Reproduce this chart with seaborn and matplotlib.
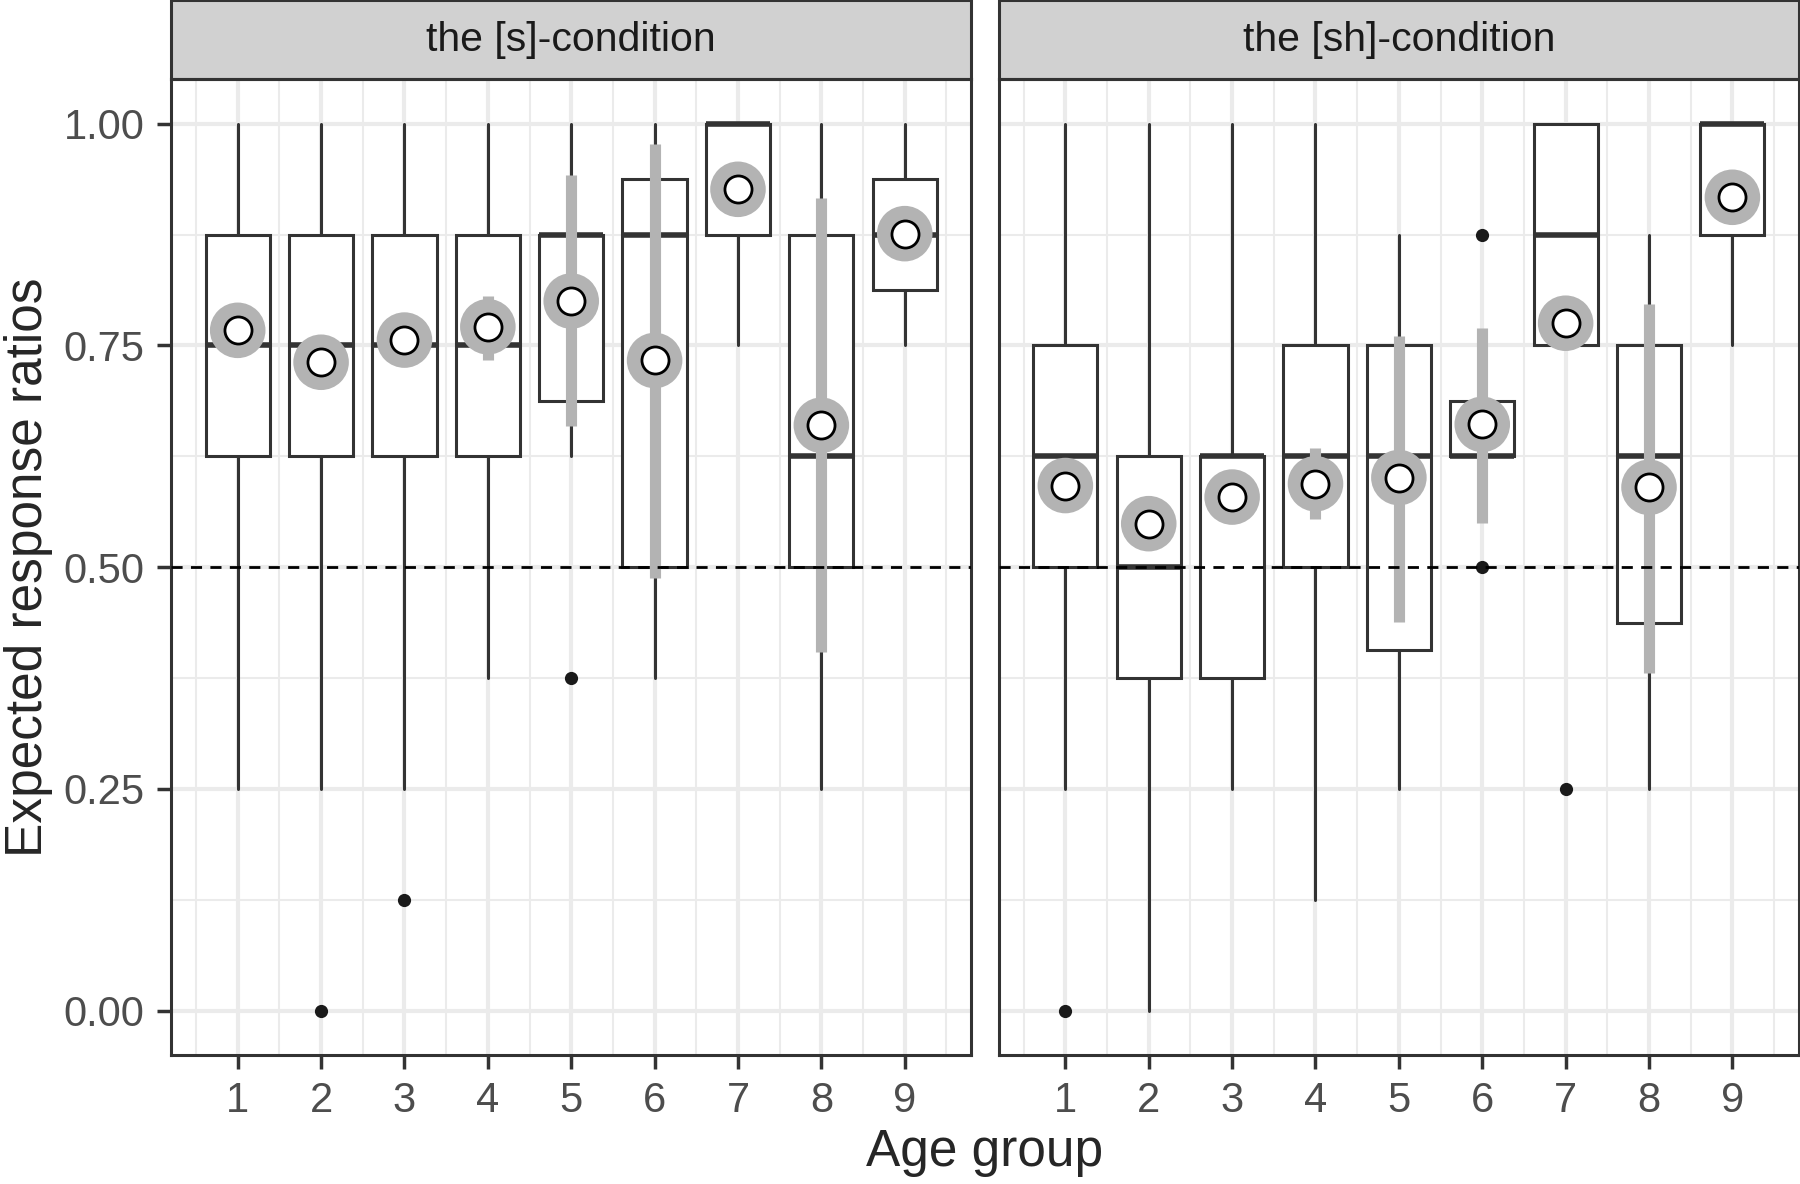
import numpy as np
import pandas as pd
import seaborn as sns
import matplotlib.pyplot as plt
from matplotlib.patches import Rectangle

# values
conditions = ["the [s]-condition", "the [sh]-condition"]
ages = [1, 2, 3, 4, 5, 6, 7, 8, 9]

# [s]-condition
s_q1 = [0.625, 0.625, 0.625, 0.625, 0.6875, 0.5, 0.875, 0.5, 0.8125]
s_med = [0.75, 0.75, 0.75, 0.75, 0.875, 0.875, 1.0, 0.625, 0.875]
s_q3 = [0.875, 0.875, 0.875, 0.875, 0.875, 0.9375, 1.0, 0.875, 0.9375]
s_wlo = [0.25, 0.25, 0.25, 0.375, 0.625, 0.375, 0.75, 0.25, 0.75]
s_whi = [1.0, 1.0, 1.0, 1.0, 1.0, 1.0, 1.0, 1.0, 1.0]
s_out = [[], [0.0], [0.125], [], [0.375], [], [], [], []]
s_mean = [0.767, 0.731, 0.756, 0.771, 0.800, 0.733, 0.926, 0.660, 0.876]
s_ci_lo = [0.752, 0.716, 0.741, 0.734, 0.659, 0.488, 0.912, 0.404, 0.862]
s_ci_hi = [0.782, 0.746, 0.771, 0.806, 0.942, 0.977, 0.940, 0.916, 0.890]

# [sh]-condition
h_q1 = [0.5, 0.375, 0.375, 0.5, 0.40625, 0.625, 0.75, 0.4375, 0.875]
h_med = [0.625, 0.5, 0.625, 0.625, 0.625, 0.625, 0.875, 0.625, 1.0]
h_q3 = [0.75, 0.625, 0.625, 0.75, 0.75, 0.6875, 1.0, 0.75, 1.0]
h_wlo = [0.25, 0.0, 0.25, 0.125, 0.25, 0.625, 0.75, 0.25, 0.75]
h_whi = [1.0, 1.0, 1.0, 1.0, 0.875, 0.6875, 1.0, 0.875, 1.0]
h_out = [[0.0], [], [], [], [], [0.875, 0.5], [0.25], [], []]
h_mean = [0.592, 0.549, 0.579, 0.594, 0.601, 0.661, 0.775, 0.590, 0.917]
h_ci_lo = [0.577, 0.534, 0.564, 0.554, 0.438, 0.550, 0.760, 0.381, 0.903]
h_ci_hi = [0.607, 0.564, 0.594, 0.634, 0.761, 0.770, 0.790, 0.797, 0.931]

def make_frame(cond, q1, med, q3, wlo, whi, out, mean, lo, hi):
    return pd.DataFrame({"condition": cond, "age": ages, "q1": q1, "med": med,
                         "q3": q3, "wlo": wlo, "whi": whi, "out": out,
                         "mean": mean, "ci_lo": lo, "ci_hi": hi})

df = pd.concat([
    make_frame(conditions[0], s_q1, s_med, s_q3, s_wlo, s_whi, s_out, s_mean, s_ci_lo, s_ci_hi),
    make_frame(conditions[1], h_q1, h_med, h_q3, h_wlo, h_whi, h_out, h_mean, h_ci_lo, h_ci_hi),
], ignore_index=True)

sns.set_theme(style="whitegrid")
plt.rcParams['font.family'] = ['Liberation Sans', 'DejaVu Sans']

dark = '#333333'
grey = '#b3b3b3'


def draw_panel(data, color=None, label=None):
    ax = plt.gca()
    stats = [dict(med=r.med, q1=r.q1, q3=r.q3, whislo=r.wlo, whishi=r.whi,
                  fliers=np.array(r.out)) for r in data.itertuples()]
    ax.bxp(stats, positions=data["age"].tolist(), widths=0.77, patch_artist=True,
           showcaps=False, manage_ticks=False, zorder=2,
           boxprops=dict(facecolor='white', edgecolor=dark, linewidth=2.2),
           medianprops=dict(color=dark, linewidth=4, solid_capstyle='butt'),
           whiskerprops=dict(color=dark, linewidth=2.2),
           flierprops=dict(marker='o', markerfacecolor='#1a1a1a',
                           markeredgecolor='none', markersize=9.5))
    ax.vlines(data["age"], data["ci_lo"], data["ci_hi"], color=grey,
              linewidth=8, zorder=3)
    # reference line sits on top of boxes and bars, under the mean points
    ax.axhline(0.5, color='black', linestyle=(0, (4, 3)), linewidth=2, zorder=4)
    sns.scatterplot(data=data, x='age', y='mean', s=1600, color=grey,
                    edgecolor='none', ax=ax, zorder=5)
    sns.scatterplot(data=data, x='age', y='mean', s=380, color='white',
                    edgecolor='black', linewidth=2, ax=ax, zorder=6)


g = sns.FacetGrid(df, col="condition", col_order=conditions, sharey=True)
g.map_dataframe(draw_panel)
g.set_titles("")
g.set_axis_labels("", "")
fig = g.figure
fig.set_size_inches(18, 11.84)
fig.subplots_adjust(left=0.095, right=0.9995, bottom=0.109, top=0.933, wspace=0.034)

for i, ax in enumerate(g.axes.flat):
    ax.set_xlim(0.2, 9.8)
    ax.set_ylim(-0.05, 1.05)
    ax.set_xticks(ages)
    ax.set_xticklabels([str(a) for a in ages])
    ax.set_xticks(np.arange(0.5, 10, 1), minor=True)
    ax.set_yticks([0, 0.25, 0.5, 0.75, 1.0])
    ax.set_yticklabels(["0.00", "0.25", "0.50", "0.75", "1.00"])
    ax.set_yticks(np.arange(0.125, 1, 0.25), minor=True)
    ax.grid(True, which='major', color='#ebebeb', linewidth=3)
    ax.grid(True, which='minor', color='#ebebeb', linewidth=1.5)
    ax.set_axisbelow(True)
    ax.tick_params(which='minor', length=0)
    ax.tick_params(which='major', bottom=True, left=(i == 0), labelleft=(i == 0),
                   length=10, width=2.5, color=dark, labelsize=30,
                   labelcolor='#4d4d4d', pad=9)
    for sp in ax.spines.values():
        sp.set_visible(True)
        sp.set_color(dark)
        sp.set_linewidth(2.2)
    ax.add_patch(Rectangle((0, 1), 1, 0.081, transform=ax.transAxes, clip_on=False,
                           facecolor='#d1d1d1', edgecolor=dark, linewidth=2.2))
    ax.text(0.5, 1.0405, conditions[i], transform=ax.transAxes, ha='center',
            va='center', fontsize=29.5, color='#1a1a1a')

fig.text(0.547, 0.027, "Age group", ha='center', va='center', fontsize=37)
fig.text(0.016, 0.521, "Expected response ratios", rotation=90, ha='center',
         va='center', fontsize=37)

fig.savefig("out.png", dpi=100)
